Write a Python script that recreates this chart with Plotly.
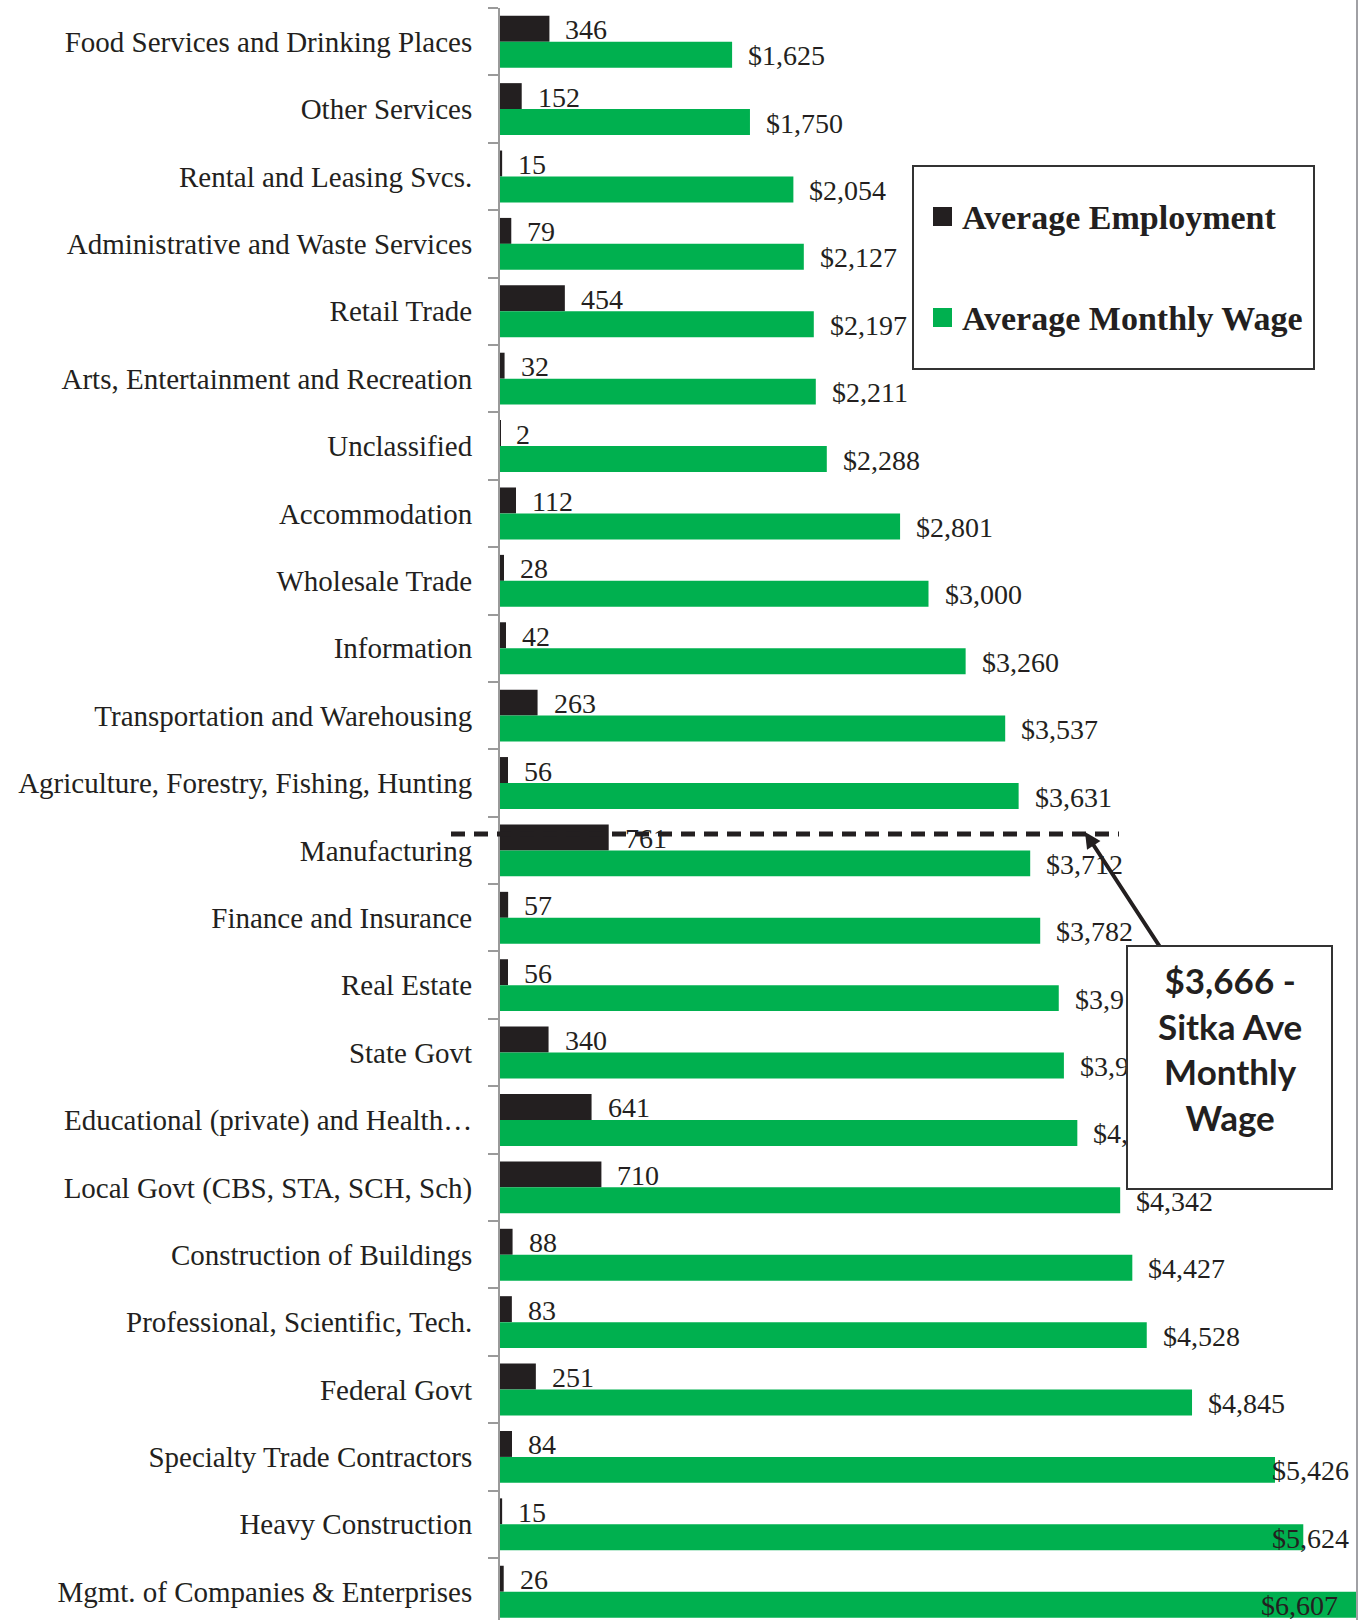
import plotly.graph_objects as go

# Industry categories, top to bottom
industries = [
    "Food Services and Drinking Places",
    "Other Services",
    "Rental and Leasing Svcs.",
    "Administrative and Waste Services",
    "Retail Trade",
    "Arts, Entertainment and Recreation",
    "Unclassified",
    "Accommodation",
    "Wholesale Trade",
    "Information",
    "Transportation and Warehousing",
    "Agriculture, Forestry, Fishing, Hunting",
    "Manufacturing",
    "Finance and Insurance",
    "Real Estate",
    "State Govt",
    "Educational (private) and Health…",
    "Local Govt (CBS, STA, SCH, Sch)",
    "Construction of Buildings",
    "Professional, Scientific, Tech.",
    "Federal Govt",
    "Specialty Trade Contractors",
    "Heavy Construction",
    "Mgmt. of Companies & Enterprises",
]

avg_employment = [346, 152, 15, 79, 454, 32, 2, 112, 28, 42, 263, 56,
                  761, 57, 56, 340, 641, 710, 88, 83, 251, 84, 15, 26]

avg_monthly_wage = [1625, 1750, 2054, 2127, 2197, 2211, 2288, 2801, 3000,
                    3260, 3537, 3631, 3712, 3782, 3912, 3948, 4042, 4342,
                    4427, 4528, 4845, 5426, 5624, 6607]

sitka_avg_wage = 3666

X_MAX = 6000
W, H = 1367, 1620
ML, MR, MT, MB = 500, 10, 8, 0

BLACK = "#231f20"
GREEN = "#00b04f"
TEXT = "#231f20"
SERIF = "Liberation Serif"

BAR_W = 0.385


def px(x):
    return (x - ML) / (W - ML - MR)


def py(y):
    return (H - MB - y) / (H - MT - MB)


fig = go.Figure()
fig.add_trace(go.Bar(
    y=industries, x=avg_employment, orientation="h", name="Average Employment",
    marker=dict(color=BLACK, line=dict(width=0)), offset=-BAR_W, width=BAR_W,
    showlegend=False, hoverinfo="x+y",
))
fig.add_trace(go.Bar(
    y=industries, x=avg_monthly_wage, orientation="h", name="Average Monthly Wage",
    marker=dict(color=GREEN, line=dict(width=0)), offset=0, width=BAR_W,
    showlegend=False, hoverinfo="x+y",
))

label_font = dict(family=SERIF, size=28, color=TEXT)

# value labels for employment bars
for cat, v in zip(industries, avg_employment):
    fig.add_annotation(x=v, y=cat, text=f"{v:,}", showarrow=False,
                       xanchor="left", yanchor="middle", xshift=14, yshift=12,
                       font=label_font)

# value labels for wage bars (kept inside the plot near the right edge)
for cat, v in zip(industries, avg_monthly_wage):
    if v > X_MAX:
        fig.add_annotation(x=X_MAX, y=cat, text=f"${v:,}", showarrow=False,
                           xanchor="right", yanchor="middle", xshift=-17, yshift=-14,
                           font=label_font)
    elif v > 5000:
        fig.add_annotation(x=X_MAX, y=cat, text=f"${v:,}", showarrow=False,
                           xanchor="right", yanchor="middle", xshift=-6, yshift=-14,
                           font=label_font)
    else:
        fig.add_annotation(x=v, y=cat, text=f"${v:,}", showarrow=False,
                           xanchor="left", yanchor="middle", xshift=14, yshift=-14,
                           font=label_font)

# dashed reference line for the Sitka average wage
fig.add_shape(type="line", xref="paper", yref="paper",
              x0=px(451), x1=px(1119), y0=py(834), y1=py(834),
              line=dict(color=BLACK, width=5, dash="14px,9px"), layer="above")

# arrow from callout to the reference line
fig.add_annotation(xref="paper", yref="paper", x=px(1085), y=py(832),
                   ax=77, ay=118, text="", showarrow=True,
                   arrowhead=2, arrowsize=0.8, arrowwidth=4, arrowcolor=BLACK)

# callout box
fig.add_annotation(xref="paper", yref="paper", x=px(1229.5), y=py(1067.5),
                   xanchor="center", yanchor="middle", text=" ", showarrow=False,
                   width=203, height=241, bgcolor="white",
                   bordercolor="#333333", borderwidth=2, borderpad=0)
fig.add_annotation(xref="paper", yref="paper", x=px(1229.5), y=py(1048),
                   xanchor="center", yanchor="middle", showarrow=False,
                   text=f"<b>${sitka_avg_wage:,} -<br>Sitka Ave<br>Monthly<br>Wage</b>",
                   font=dict(family="Lato", size=35, color=TEXT), align="center")

# legend box
fig.add_shape(type="rect", xref="paper", yref="paper",
              x0=px(913), x1=px(1314), y0=py(369), y1=py(166),
              line=dict(color="#333333", width=2), fillcolor="white", layer="above")
for (y_mid, color, name) in [(217, BLACK, "Average Employment"),
                             (318, GREEN, "Average Monthly Wage")]:
    fig.add_shape(type="rect", xref="paper", yref="paper",
                  x0=px(933), x1=px(952), y0=py(y_mid + 9), y1=py(y_mid - 10),
                  line=dict(width=0), fillcolor=color, layer="above")
    fig.add_annotation(xref="paper", yref="paper", x=px(960), y=py(y_mid),
                       xanchor="left", yanchor="middle", showarrow=False,
                       text=f"<b>{name}</b>",
                       font=dict(family=SERIF, size=34, color=TEXT))

# chart border on the right
fig.add_shape(type="line", xref="paper", yref="paper",
              x0=1, x1=1, y0=py(H), y1=py(0),
              line=dict(color="#a0a0a4", width=2), layer="above")

fig.update_layout(
    width=W, height=H,
    margin=dict(l=ML, r=MR, t=MT, b=MB, pad=0),
    paper_bgcolor="white", plot_bgcolor="white",
    barmode="overlay",
    xaxis=dict(range=[0, X_MAX], visible=False, showgrid=False, zeroline=False),
    yaxis=dict(
        type="category", categoryorder="array", categoryarray=industries,
        range=[23.42, -0.5], tickson="boundaries",
        ticks="outside", ticklen=10, tickcolor="#9a9a9a", tickwidth=2,
        showline=True, linecolor="#9a9a9a", linewidth=2,
        showgrid=False, zeroline=False,
        tickfont=dict(family=SERIF, size=29, color=TEXT),
        ticklabelstandoff=20,
    ),
)

fig.write_html("out.html")
